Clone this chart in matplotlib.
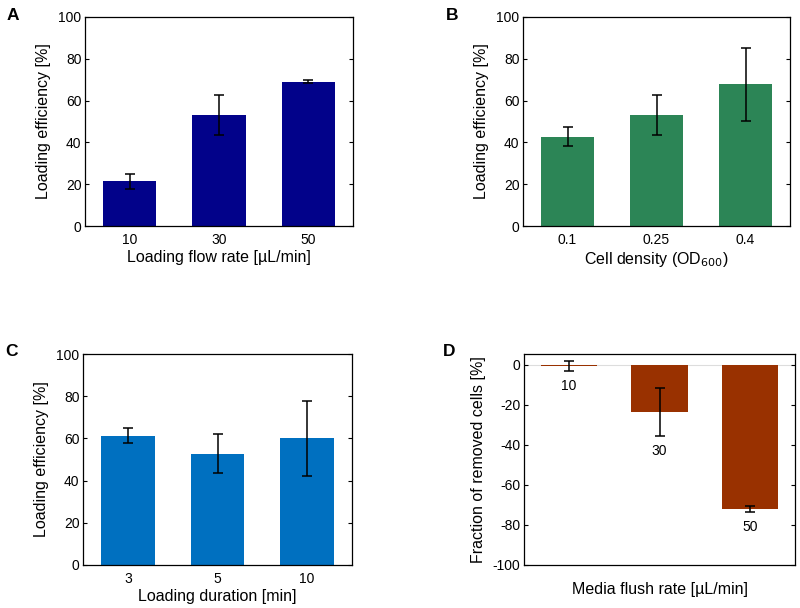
import matplotlib
matplotlib.use("Agg")
import matplotlib.pyplot as plt

plt.rcParams['font.family'] = ['Liberation Sans', 'DejaVu Sans']
plt.rcParams['axes.unicode_minus'] = False

# Data
a_labels = ["10", "30", "50"]
a_vals = [21.3, 53.0, 69.0]
a_err = [3.6, 9.5, 0.7]

b_labels = ["0.1", "0.25", "0.4"]
b_vals = [42.7, 53.0, 67.8]
b_err = [4.5, 9.5, 17.6]

c_labels = ["3", "5", "10"]
c_vals = [61.3, 52.8, 60.1]
c_err = [3.7, 9.3, 17.8]

d_labels = ["10", "30", "50"]
d_vals = [-0.5, -23.3, -72.0]
d_err = [2.6, 12.0, 1.6]

colors = {"A": "#02028a", "B": "#2c8556", "C": "#0070c0", "D": "#993100"}

W, H = 800, 608
fig = plt.figure(figsize=(W / 100, H / 100), dpi=100)


def px_axes(x0, y0, x1, y1):
    return fig.add_axes([x0 / W, 1 - y1 / H, (x1 - x0) / W, (y1 - y0) / H])


TICK_FS = 10
LAB_FS = 11.5


def style(ax):
    ax.tick_params(axis='y', direction='in', right=True, left=True, length=3,
                   labelsize=TICK_FS, pad=2.5, width=0.8)
    ax.tick_params(axis='x', length=0, labelsize=TICK_FS, pad=5)
    for s in ax.spines.values():
        s.set_linewidth(0.9)


def panel(ax, labels, vals, err, color, xlabel, ylabel):
    pos = list(range(1, len(vals) + 1))
    ax.bar(pos, vals, width=0.6, color=color, zorder=2)
    ax.errorbar(pos, vals, yerr=err, fmt='none', ecolor='black', elinewidth=1.1,
                capsize=3.5, capthick=1.1, zorder=3)
    ax.set_xlim(0.5, 3.5)
    ax.set_ylim(0, 100)
    ax.set_yticks([0, 20, 40, 60, 80, 100])
    ax.set_xticks(pos)
    ax.set_xticklabels(labels)
    ax.set_xlabel(xlabel, fontsize=LAB_FS, labelpad=2)
    ax.set_ylabel(ylabel, fontsize=LAB_FS, labelpad=5)
    style(ax)


axA = px_axes(85, 17, 353, 226)
panel(axA, a_labels, a_vals, a_err, colors["A"], "Loading flow rate [\u00b5L/min]",
      "Loading efficiency [%]")

axB = px_axes(523, 17, 790, 226)
panel(axB, b_labels, b_vals, b_err, colors["B"], "Cell density (OD$_{600}$)",
      "Loading efficiency [%]")

axC = px_axes(83, 354, 352, 565)
panel(axC, c_labels, c_vals, c_err, colors["C"], "Loading duration [min]",
      "Loading efficiency [%]")

axD = px_axes(524, 354, 795, 565)
posD = list(range(1, len(d_vals) + 1))
axD.axhline(0, color='#dddddd', lw=0.8, zorder=1)
axD.bar(posD, d_vals, width=0.62, color=colors["D"], zorder=2)
axD.errorbar(posD, d_vals, yerr=d_err, fmt='none', ecolor='black', elinewidth=1.1,
             capsize=3.5, capthick=1.1, zorder=3)
for p, v, e, lab in zip(posD, d_vals, d_err, d_labels):
    axD.text(p, v - e - 4, lab, ha='center', va='top', fontsize=TICK_FS)
axD.set_xlim(0.5, 3.5)
axD.set_ylim(-100, 5.5)
axD.set_yticks([0, -20, -40, -60, -80, -100])
axD.set_xticks([])
axD.set_xlabel("Media flush rate [\u00b5L/min]", fontsize=LAB_FS, labelpad=12)
axD.set_ylabel("Fraction of removed cells [%]", fontsize=LAB_FS, labelpad=5)
style(axD)

# Panel letters
for lab, x, y in [("A", 13, 15), ("B", 452, 15), ("C", 12, 352), ("D", 449, 352)]:
    fig.text(x / W, 1 - y / H, lab, fontsize=12.5, fontweight='bold', ha='center', va='center')

fig.savefig("out.png", dpi=100)
